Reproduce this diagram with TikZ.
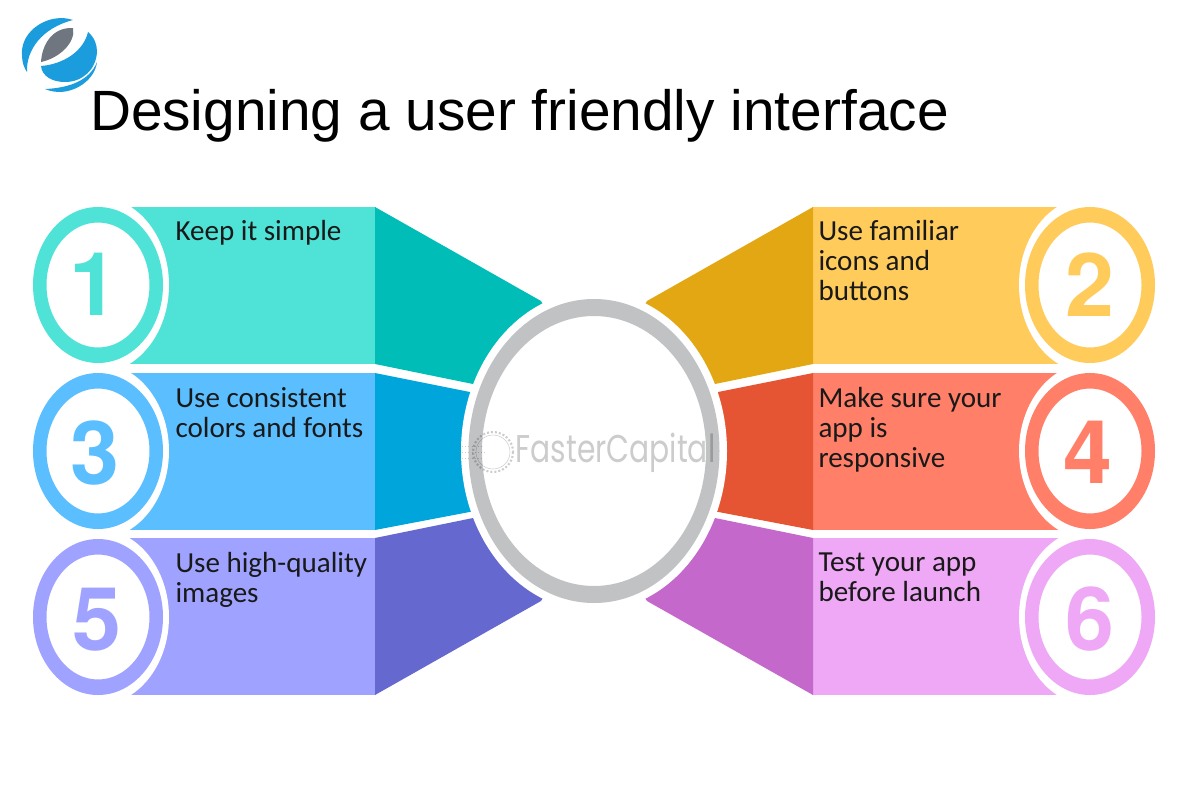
\documentclass[tikz,border=0pt]{standalone}
\usepackage{fontspec}
\setmainfont{Carlito}
\newfontfamily\titlefont{Liberation Sans}
\newfontfamily\numfont{TeX Gyre Heros}
\newfontfamily\markfont{Poppins}

\definecolor{tealL}{HTML}{4FE3D8}
\definecolor{tealD}{HTML}{00BDB8}
\definecolor{amberL}{HTML}{FFCC5C}
\definecolor{amberD}{HTML}{E3A713}
\definecolor{skyL}{HTML}{5BBEFF}
\definecolor{skyD}{HTML}{00A5DC}
\definecolor{coralL}{HTML}{FF7F69}
\definecolor{coralD}{HTML}{E55533}
\definecolor{violetL}{HTML}{9FA3FF}
\definecolor{violetD}{HTML}{6569CF}
\definecolor{pinkL}{HTML}{EEA8F5}
\definecolor{pinkD}{HTML}{C468CC}
\definecolor{ringgray}{HTML}{C0C2C4}
\definecolor{logoblue}{HTML}{1B9CDC}
\definecolor{logogray}{HTML}{6F7680}

\tikzset{every picture/.style={line width=0.75pt}}
\tikzset{
  itemtext/.style={anchor=north west,inner sep=0pt,align=left,font=\fontsize{21.8}{22.5}\selectfont,text=black!90},
  numtext/.style={inner sep=0pt,font=\numfont\bfseries\fontsize{66}{66}\selectfont},
  halo/.style={fill=white,draw=none},
  markline/.style={black,draw opacity=0.2,line width=0.4pt},
}

\begin{document}
\begin{tikzpicture}[x=0.75pt,y=0.75pt,yscale=-1,xscale=1]
\path[use as bounding box] (0,0) rectangle (1200,800);

%Shape: Logo
\fill [logoblue] (73,20) .. controls (50,12) and (20,30) .. (22,55) .. controls (22,62) and (24,68) .. (27,72) .. controls (26,50) and (42,28) .. (73,20) -- cycle ;
\fill [logogray] (41,62) .. controls (42,45) and (52,27) .. (73,28) .. controls (76,42) and (60,58) .. (41,62) -- cycle ;
\fill [logoblue] (88,32) .. controls (95,38) and (97,45) .. (97,52) .. controls (96,70) and (82,82) .. (65,82) .. controls (52,82) and (42,76) .. (41,66) .. controls (65,64) and (84,50) .. (88,32) -- cycle ;
\fill [logoblue] (45,89) .. controls (70,88) and (90,80) .. (97,62) .. controls (95,82) and (68,99) .. (45,89) -- cycle ;

% Text Node
\node (title) [anchor=north west,inner sep=0pt,font=\titlefont\fontsize{42.6}{48}\selectfont] at (89.5,89) {Designing a user friendly interface};

%Shape: Bands
\fill [tealL] (130,207) rectangle (376,364) ;
\fill [skyL] (130,373) rectangle (376,530) ;
\fill [violetL] (130,538) rectangle (376,695) ;
\fill [amberL] (812,207) rectangle (1058,364) ;
\fill [coralL] (812,373) rectangle (1058,530) ;
\fill [pinkL] (812,538) rectangle (1058,695) ;

%Shape: Dark wings
\fill [tealD] (375,207) -- (541,301) -- (600,400) -- (473,384) -- (375,364) -- cycle ;
\fill [skyD] (375,373) -- (480,394) -- (480,510) -- (375,530) -- cycle ;
\fill [violetD] (375,538) -- (473,518) -- (600,510) -- (541,601) -- (375,695) -- cycle ;
\fill [amberD] (813,207) -- (647,301) -- (588,400) -- (715,384) -- (813,364) -- cycle ;
\fill [coralD] (813,373) -- (708,394) -- (708,510) -- (813,530) -- cycle ;
\fill [pinkD] (813,538) -- (715,518) -- (588,510) -- (647,601) -- (813,695) -- cycle ;

%Shape: White halos
\fill [halo] (594,451) ellipse [x radius=133, y radius=160] ;
\fill [halo] (98,285) ellipse [x radius=71, y radius=88] ;
\fill [halo] (98,451) ellipse [x radius=71, y radius=88] ;
\fill [halo] (98,617) ellipse [x radius=71, y radius=88] ;
\fill [halo] (1090,285) ellipse [x radius=71, y radius=88] ;
\fill [halo] (1090,451) ellipse [x radius=71, y radius=88] ;
\fill [halo] (1090,617) ellipse [x radius=71, y radius=88] ;

%Shape: Center ring
\fill [ringgray,even odd rule] (594,451) ellipse [x radius=125.5, y radius=152] (594,451) ellipse [x radius=112, y radius=135] ;

%Shape: Number rings
\fill [tealL,even odd rule] (98,285) ellipse [x radius=65, y radius=78] (98,285) ellipse [x radius=51.5, y radius=62.5] ;
\fill [skyL,even odd rule] (98,451) ellipse [x radius=65, y radius=78] (98,451) ellipse [x radius=51.5, y radius=62.5] ;
\fill [violetL,even odd rule] (98,617) ellipse [x radius=65, y radius=78] (98,617) ellipse [x radius=51.5, y radius=62.5] ;
\fill [amberL,even odd rule] (1090,285) ellipse [x radius=65, y radius=78] (1090,285) ellipse [x radius=51.5, y radius=62.5] ;
\fill [coralL,even odd rule] (1090,451) ellipse [x radius=65, y radius=78] (1090,451) ellipse [x radius=51.5, y radius=62.5] ;
\fill [pinkL,even odd rule] (1090,617) ellipse [x radius=65, y radius=78] (1090,617) ellipse [x radius=51.5, y radius=62.5] ;

% Text Node
\node (numOne) [numtext,text=tealL] at (94,284) {1};
\node (numThree) [numtext,text=skyL] at (95,453) {3};
\node (numFive) [numtext,text=violetL] at (97,620) {5};
\node (numTwo) [numtext,text=amberL] at (1090,285) {2};
\node (numFour) [numtext,text=coralL] at (1088,452) {4};
\node (numSix) [numtext,text=pinkL] at (1090,619) {6};

% Text Node
\node (itemOne) [itemtext] at (175,220) {Keep it simple};
\node (itemThree) [itemtext] at (175,387) {Use consistent\\colors and fonts};
\node (itemFive) [itemtext] at (175,552) {Use high-quality\\images};
\node (itemTwo) [itemtext] at (818,220) {Use familiar\\icons and\\buttons};
\node (itemFour) [itemtext] at (818,387) {Make sure your\\app is\\responsive};
\node (itemSix) [itemtext] at (818,552) {Test your app\\before launch};

%Shape: Watermark gear
\draw [markline,line width=1.6pt,dash pattern=on 1.5pt off 1.5pt] (493,452) circle [radius=20] ;
\draw [markline] (493,452) circle [radius=17] ;
\draw [markline,dotted] (462,446) -- (482,446) ;
\draw [markline,dotted] (462,452) -- (486,452) ;
\draw [markline,dotted] (462,458) -- (482,458) ;

% Text Node
\node (markText) [anchor=west,inner sep=0pt,text=black,text opacity=0.2,font=\markfont\fontsize{29}{30}\selectfont] at (515,453) {\scalebox{0.77}[1]{FasterCapital}};
\end{tikzpicture}
\end{document}
